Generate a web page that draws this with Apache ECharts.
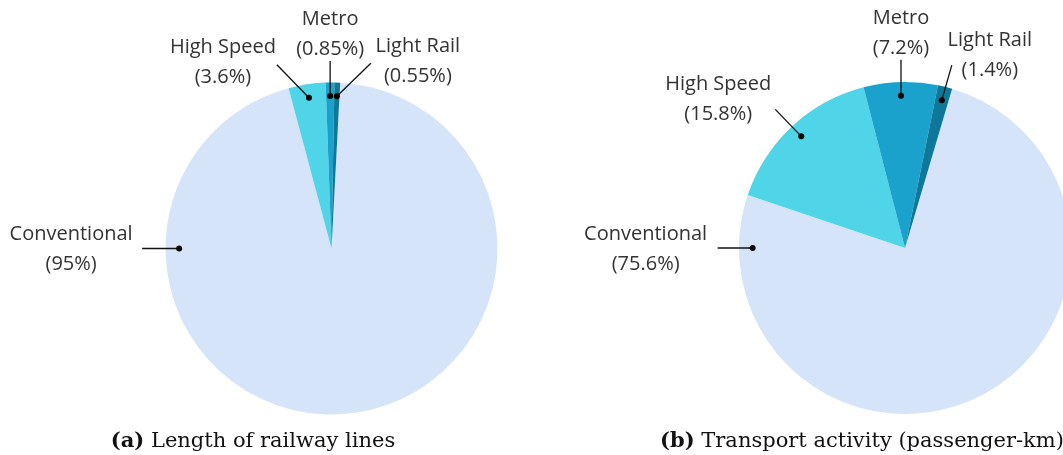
<!DOCTYPE html>
<html>
<head>
<meta charset="utf-8">
<script src="https://cdn.jsdelivr.net/npm/echarts@6/dist/echarts.min.js"></script>
<style>
  html, body { margin: 0; padding: 0; background: #fff; }
  #chart { width: 1063px; height: 455px; }
</style>
</head>
<body>
<div id="chart"></div>
<script>
// data
var categories = ['Conventional', 'High Speed', 'Metro', 'Light Rail'];
var lengthShare = [95, 3.6, 0.85, 0.55];       // (a) length of railway lines, %
var activityShare = [75.6, 15.8, 7.2, 1.4];    // (b) passenger-km, %
var captionTags = ['(a)', '(b)'];
var captionTexts = ['Length of railway lines', 'Transport activity (passenger-km)'];

var colors = ['#d6e4fa', '#4fd4e8', '#1aa2cc', '#0d7899'];
var labelFont = '20px "Open Sans", sans-serif';

// where each annotation sits relative to its dot (label centre, end of leader line)
var labelPlace = [
  [{lx: -108, ly: 1, ex: -37, ey: 0}, {lx: -86, ly: -35, ex: -32, ey: -33},
   {lx: 0, ly: -62, ex: 0, ey: -35}, {lx: 81, ly: -35, ex: 34, ey: -33}],
  [{lx: -107, ly: 1, ex: -35, ey: 0}, {lx: -83, ly: -37, ex: -26, ey: -27},
   {lx: 0, ly: -62, ex: 0, ey: -36}, {lx: 48, ly: -45, ex: 10, ey: -35}]
];

var myChart = echarts.init(document.getElementById('chart'));

function pieData(values) {
  return values.map(function (v, i) {
    return {name: categories[i], value: v, itemStyle: {color: colors[i]}};
  });
}

function pieSeries(values, center, startAngle) {
  return {
    type: 'pie',
    center: center,
    radius: 166,
    startAngle: startAngle,
    clockwise: true,
    silent: true,
    label: {show: false},
    labelLine: {show: false},
    emphasis: {disabled: true},
    itemStyle: {borderWidth: 0},
    data: pieData(values)
  };
}

myChart.setOption({
  animation: false,
  backgroundColor: '#fff',
  series: [
    pieSeries(lengthShare, [331.5, 248.5], 87),
    pieSeries(activityShare, [905, 248], 73.5)
  ]
});

// annotations: dot inside the slice, leader line, label
var shares = [lengthShare, activityShare];
var graphics = [];
var model = myChart.getModel();
for (var s = 0; s < 2; s++) {
  var data = model.getSeriesByIndex(s).getData();
  for (var i = 0; i < categories.length; i++) {
    var lay = data.getItemLayout(i);
    var ang = (lay.startAngle + lay.endAngle) / 2;
    if (i === 0) ang = Math.PI; // conventional label is put at 9 o'clock
    var rr = lay.r * 0.918;
    var px = lay.cx + rr * Math.cos(ang);
    var py = lay.cy + rr * Math.sin(ang);
    var p = labelPlace[s][i];
    graphics.push({
      type: 'line', silent: true, z: 100,
      shape: {x1: px, y1: py, x2: px + p.ex, y2: py + p.ey},
      style: {stroke: '#111', lineWidth: 1.3}
    });
    graphics.push({
      type: 'circle', silent: true, z: 101,
      shape: {cx: px, cy: py, r: 3},
      style: {fill: '#000'}
    });
    graphics.push({
      type: 'text', silent: true, z: 100,
      x: px + p.lx, y: py + p.ly,
      style: {
        text: categories[i] + '\n(' + shares[s][i] + '%)',
        font: labelFont, fill: '#333',
        align: 'center', verticalAlign: 'middle', lineHeight: 30
      }
    });
  }
}

// captions under each pie
var captionX = [253, 862];
for (var c = 0; c < 2; c++) {
  graphics.push({
    type: 'text', silent: true, z: 100,
    x: captionX[c], y: 442,
    style: {
      text: '{b|' + captionTags[c] + '} ' + captionTexts[c],
      font: '21px "DejaVu Serif", serif', fill: '#111',
      align: 'center', verticalAlign: 'middle',
      rich: {b: {font: 'bold 21px "DejaVu Serif", serif', fill: '#111'}}
    }
  });
}

myChart.setOption({graphic: graphics});
</script>
</body>
</html>
